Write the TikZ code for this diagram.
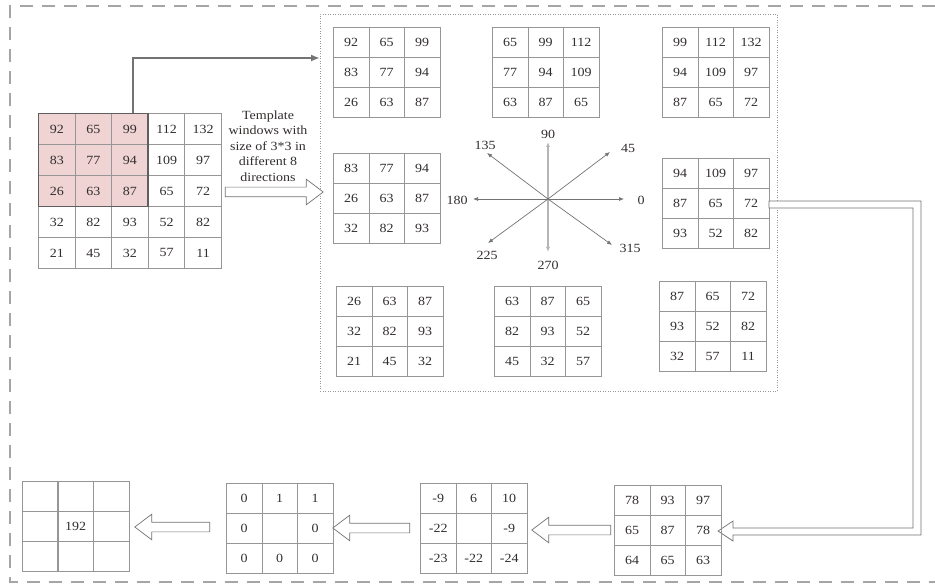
\documentclass[tikz,border=0pt]{standalone}
\usepackage{fontspec}
\setmainfont{Liberation Serif}[FakeStretch=1.12]
\usetikzlibrary{matrix,shapes.arrows,arrows.meta,calc}
\definecolor{gridc}{RGB}{150,150,150}
\definecolor{numc}{RGB}{50,45,45}
\definecolor{pinkc}{RGB}{240,212,212}
\definecolor{framec}{RGB}{165,165,165}
\definecolor{arrc}{RGB}{115,115,115}
\definecolor{pframe}{RGB}{95,95,95}
\tikzset{
  cell/.style={draw=gridc, line width=0.9pt, minimum width=35.5pt, minimum height=30pt, inner sep=0pt, font=\fontsize{12.5}{12.5}\selectfont, text=numc, anchor=center},
  bigcell/.style={cell, minimum width=36.6pt, minimum height=31pt},
  grid/.style={matrix of nodes, nodes in empty cells, anchor=north west, column sep=-0.9pt, row sep=-0.9pt, inner sep=0pt, outer sep=0pt, nodes={cell}},
  pk/.style={fill=pinkc},
  hollow/.style={single arrow, draw=arrc, fill=white, line width=0.7pt, single arrow head extend=8pt, single arrow tip angle=74, inner xsep=0pt, inner ysep=4.5pt, outer sep=0pt},
  lbl/.style={font=\fontsize{12.5}{12.5}\selectfont, text=numc, inner sep=0pt},
  comp/.style={draw=arrc, line width=0.7pt, -{Latex[length=5pt,width=4pt]}},
  outerframe/.style={draw=framec, line width=1.6pt, dash pattern=on 13pt off 9pt},
  bent/.style={draw=arrc, line width=0.7pt, fill=white},
}
\begin{document}
\begin{tikzpicture}[x=1pt,y=-1pt]
\useasboundingbox (0,0) rectangle (935,585);
% outer dashed frame
\draw[outerframe] (935,6) -- (10,6) -- (10,582) -- (935,582);
% dotted box
\node[draw=gridc, line width=0.6pt, dash pattern=on 1pt off 1.5pt, minimum width=457pt, minimum height=377pt, anchor=north west, inner sep=0pt] (dot) at (320,14) {};

% big matrix
\matrix (big) [grid, nodes={bigcell}] at (38,113) {
|[pk]| 92 & |[pk]| 65 & |[pk]| 99 & 112 & 132 \\
|[pk]| 83 & |[pk]| 77 & |[pk]| 94 & 109 & 97 \\
|[pk]| 26 & |[pk]| 63 & |[pk]| 87 & 65 & 72 \\
32 & 82 & 93 & 52 & 82 \\
21 & 45 & 32 & 57 & 11 \\
};
\draw[pframe, line width=1.8pt] (big-1-1.north west) rectangle (big-3-3.south east);

% arrow to dotted box
\coordinate (up) at (133,58);
\draw[arrc, line width=2.2pt, -{Latex[length=9pt,width=7pt]}] (big-1-3.north -| up) -- (up) -- (up -| dot.west);

% template text and arrow
\node[lbl, align=center, font=\fontsize{12.5}{15.5}\selectfont] (tmpl) at (268,146) {Template\\windows with\\size of 3*3 in\\different 8\\directions};
\node[hollow, minimum height=98pt] (a0) at (271,192) {};

% eight windows
\matrix (tl) [grid] at (333,27) {92 & 65 & 99 \\ 83 & 77 & 94 \\ 26 & 63 & 87 \\};
\matrix (tc) [grid] at (492,27) {65 & 99 & 112 \\ 77 & 94 & 109 \\ 63 & 87 & 65 \\};
\matrix (tr) [grid] at (662,27) {99 & 112 & 132 \\ 94 & 109 & 97 \\ 87 & 65 & 72 \\};
\matrix (ml) [grid] at (333,153) {83 & 77 & 94 \\ 26 & 63 & 87 \\ 32 & 82 & 93 \\};
\matrix (mr) [grid] at (662,158) {94 & 109 & 97 \\ 87 & 65 & 72 \\ 93 & 52 & 82 \\};
\matrix (bl) [grid] at (336,286) {26 & 63 & 87 \\ 32 & 82 & 93 \\ 21 & 45 & 32 \\};
\matrix (bc) [grid] at (494,286) {63 & 87 & 65 \\ 82 & 93 & 52 \\ 45 & 32 & 57 \\};
\matrix (br) [grid] at (659,281) {87 & 65 & 72 \\ 93 & 52 & 82 \\ 32 & 57 & 11 \\};

% compass
\coordinate (c) at (548,199);
\coordinate (t90) at (548,142);
\coordinate (t270) at (548,252);
\coordinate (t180) at (473,199);
\coordinate (t0) at (624,199);
\coordinate (t45) at (610,152);
\coordinate (t135) at (487,153);
\coordinate (t225) at (488,243);
\coordinate (t315) at (612,245);
\draw[comp, line width=1.6pt, draw=gridc!70] (c) -- (t90);
\draw[comp, line width=1.6pt, draw=gridc!70] (c) -- (t270);
\foreach \t in {t180,t0,t45,t135,t225,t315} \draw[comp] (c) -- (\t);
\node[lbl] (n90) at (548,134) {90};
\node[lbl] (n270) at (548,265) {270};
\node[lbl] (n180) at (457,200) {180};
\node[lbl] (n0) at (641,200) {0};
\node[lbl] (n45) at (628,148) {45};
\node[lbl] (n135) at (485,145) {135};
\node[lbl] (n225) at (487,255) {225};
\node[lbl] (n315) at (630,248) {315};

% bent double arrow
\draw[bent] (mr-2-3.east |- 0,201) -- (921,201) -- (921,535) -- (733,535) -- (733,541) -- (718,531) -- (733,521) -- (733,528) -- (913,528) -- (913,208) -- (mr-2-3.east |- 0,208) -- cycle;

% bottom row
\matrix (r78) [grid] at (614,485) {78 & 93 & 97 \\ 65 & 87 & 78 \\ 64 & 65 & 63 \\};
\matrix (rm9) [grid] at (420,483) {-9 & 6 & 10 \\ -22 & & -9 \\ -23 & -22 & -24 \\};
\matrix (r01) [grid] at (226,483) {0 & 1 & 1 \\ 0 & & 0 \\ 0 & 0 & 0 \\};
\matrix (r192) [grid] at (22,481) { & & \\ & 192 & \\ & & \\};

\node[hollow, minimum height=79pt, shape border rotate=180] (a1) at (574.5,530) {};
\node[hollow, minimum height=77pt, shape border rotate=180] (a2) at (374.5,528) {};
\node[hollow, minimum height=75pt, shape border rotate=180] (a3) at (175.5,527) {};
\end{tikzpicture}
\end{document}
